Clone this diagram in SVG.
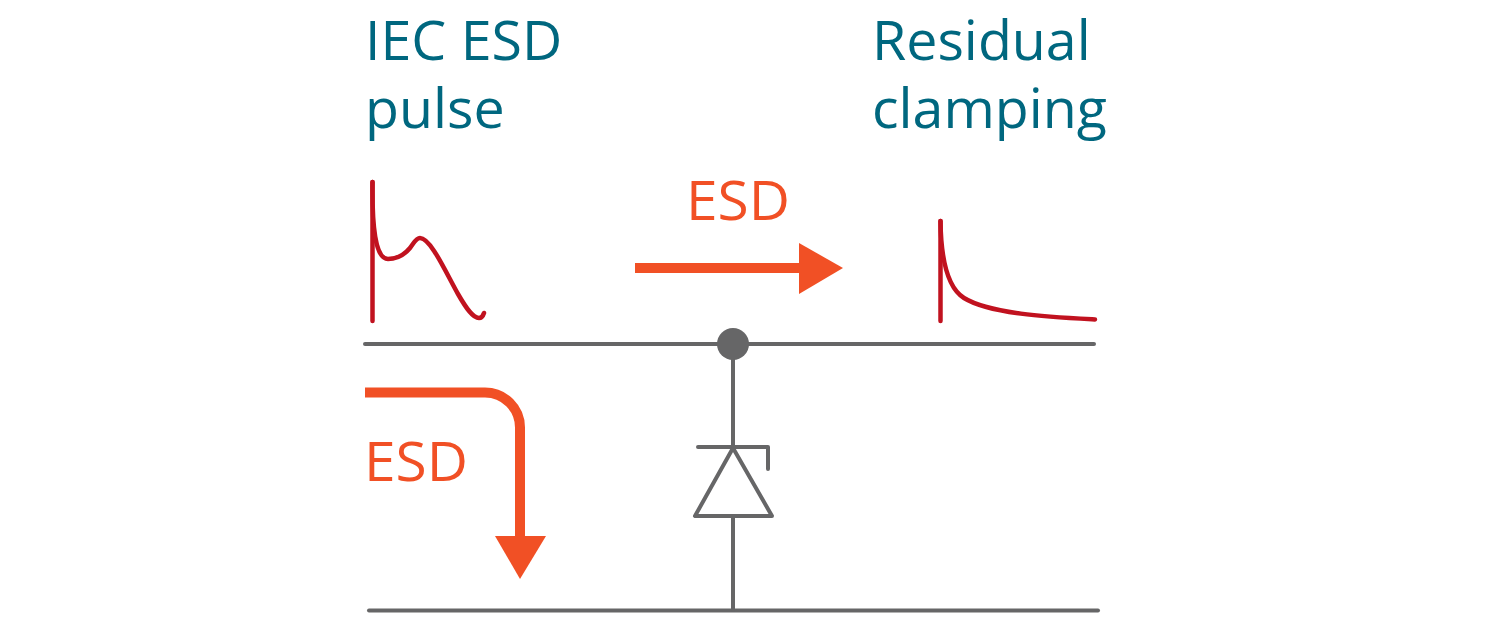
<svg xmlns="http://www.w3.org/2000/svg" width="1509" height="623" viewBox="0 0 1509 623">
<style>
.title{font-family:"Open Sans","Noto Sans",sans-serif;font-size:55.500px;fill:#00677f}
.esd{font-family:"Open Sans","Noto Sans",sans-serif;font-size:54px;fill:#f15025}
.wire{fill:none;stroke:#666667;stroke-width:4;stroke-linecap:round;stroke-linejoin:round}
.pulse{fill:none;stroke:#c1121f;stroke-width:4.500;stroke-linecap:round;stroke-linejoin:round}
.flow{fill:none;stroke:#f15025;stroke-width:10}
.head{fill:#f15025}
</style>
<rect width="1509" height="623" fill="#fff"/>
<g id="connectors">
<path class="wire" d="M365 344H1094"/>
<path class="wire" d="M369 610.500H1098"/>
<path class="wire" d="M733 344V448"/>
<path class="wire" d="M733 516V610"/>
</g>
<g id="junction"><circle cx="733" cy="344" r="16" fill="#666667"/></g>
<g id="diode">
<path class="wire" d="M698 447H768V469"/>
<path class="wire" d="M733 448L695 516H772Z"/>
</g>
<g id="pulse-left">
<path class="pulse" d="M372.500 321V182"/>
<path class="pulse" d="M372.500 182C372 225 375 259 388 259C397 259 405 254 410 248C414 243 416 238 420 238C431 238 447 275 458 294C466 308 473 318 479 318C482 318 483 316 484 313"/>
</g>
<g id="pulse-right">
<path class="pulse" d="M940.500 321V221"/>
<path class="pulse" d="M940.500 221C941 262 948 288 964 298C990 314 1050 317 1095 319.500"/>
</g>
<g id="arrow-right">
<path class="flow" d="M635 268H802"/>
<path class="head" d="M799 243L843 268L799 294Z"/>
</g>
<g id="arrow-down">
<path class="flow" d="M365 392.500H485A35 35 0 0 1 520 427.500V538"/>
<path class="head" d="M495 536H546L520 579Z"/>
</g>
<g id="labels">
<text class="title" x="365" y="60">IEC ESD</text>
<text class="title" x="365" y="128">pulse</text>
<text class="title" x="872" y="60">Residual</text>
<text class="title" x="872" y="128">clamping</text>
<text class="esd" x="686" y="220" textLength="104" lengthAdjust="spacingAndGlyphs">ESD</text>
<text class="esd" x="364" y="481" textLength="104" lengthAdjust="spacingAndGlyphs">ESD</text>
</g>
</svg>
